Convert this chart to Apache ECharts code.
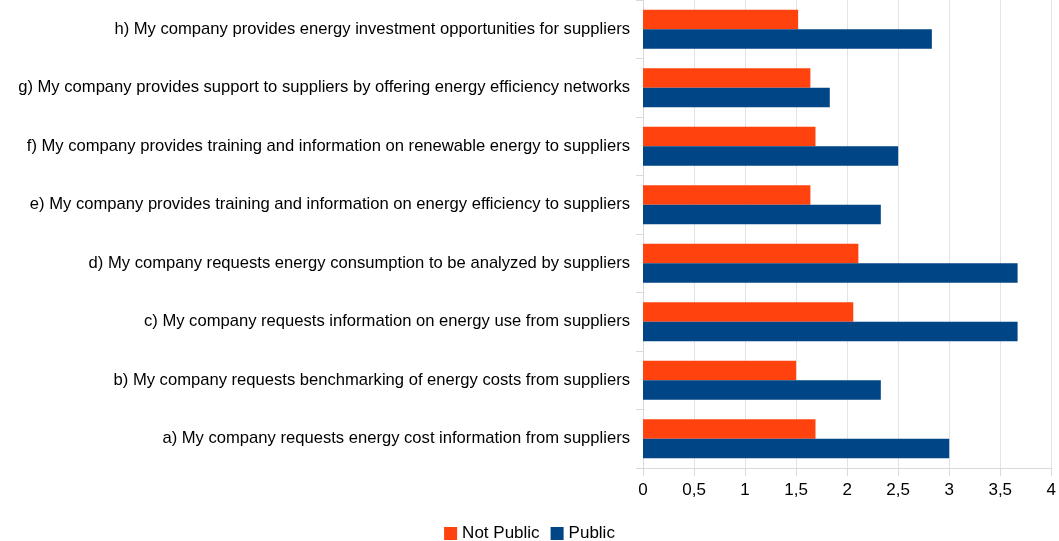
<!DOCTYPE html>
<html>
<head>
<meta charset="utf-8">
<script src="https://cdn.jsdelivr.net/npm/echarts@6/dist/echarts.min.js"></script>
<style>html,body{margin:0;padding:0;background:#fff}#c{width:1059px;height:541px}</style>
</head>
<body>
<div id="c"></div>
<script>
const categories = [
  "a) My company requests energy cost information from suppliers",
  "b) My company requests benchmarking of energy costs from suppliers",
  "c) My company requests information on energy use from suppliers",
  "d) My company requests energy consumption to be analyzed by suppliers",
  "e) My company provides training and information on energy efficiency to suppliers",
  "f) My company provides training and information on renewable energy to suppliers",
  "g) My company provides support to suppliers by offering energy efficiency networks",
  "h) My company provides energy investment opportunities for suppliers"
];
const notPublic = [1.69, 1.5, 2.06, 2.11, 1.64, 1.69, 1.64, 1.52];
const publicVals = [3.0, 2.33, 3.67, 3.67, 2.33, 2.5, 1.83, 2.83];
const seriesNames = ["Not Public", "Public"];

const chart = echarts.init(document.getElementById('c'));
const font = "'Liberation Sans', Arial, sans-serif";
chart.setOption({
  animation: false,
  textStyle: { fontFamily: font },
  color: ['#ff420e', '#004586'],
  legend: {
    bottom: -6,
    left: 'center',
    itemWidth: 13,
    itemHeight: 13,
    itemGap: 11,
    icon: 'rect',
    textStyle: { fontFamily: font, fontSize: 17, color: '#000' },
    data: seriesNames
  },
  grid: { left: 643, right: 4, top: 0, bottom: 73, containLabel: false },
  xAxis: {
    type: 'value', min: 0, max: 4, interval: 0.5,
    axisLine: { show: true, lineStyle: { color: '#d9d9d9' } },
    axisTick: { show: true, length: 8, lineStyle: { color: '#d9d9d9' } },
    splitLine: { show: true, lineStyle: { color: '#e3e3e3' } },
    axisLabel: {
      fontFamily: font, fontSize: 17, color: '#000', margin: 14,
      formatter: v => String(v).replace('.', ',')
    }
  },
  yAxis: {
    type: 'category', data: categories,
    axisLine: { show: true, lineStyle: { color: '#d9d9d9' } },
    axisTick: { show: true, length: 7, lineStyle: { color: '#d9d9d9' } },
    axisLabel: { fontFamily: font, fontSize: 16.6, color: '#000', margin: 13 }
  },
  series: [
    { name: seriesNames[0], type: 'bar', data: notPublic, barGap: '0%', barCategoryGap: '33%' },
    { name: seriesNames[1], type: 'bar', data: publicVals, barGap: '0%', barCategoryGap: '33%' }
  ]
});
</script>
</body>
</html>
